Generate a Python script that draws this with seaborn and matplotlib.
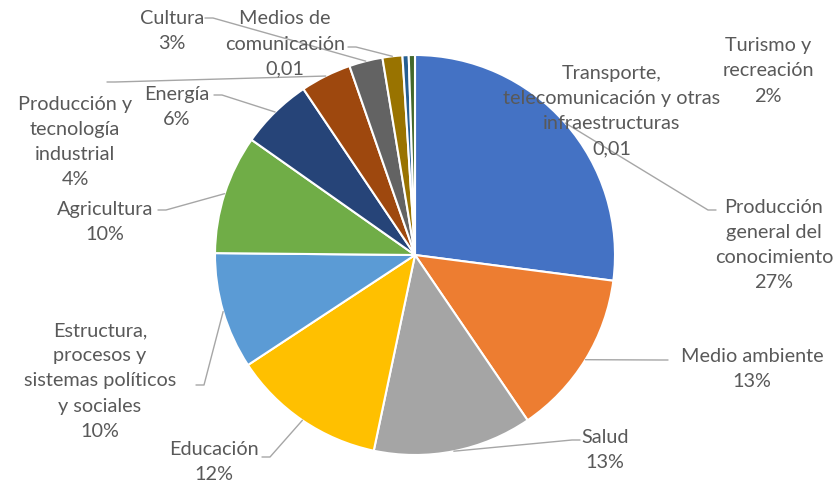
import numpy as np
import matplotlib
matplotlib.use("Agg")
import matplotlib.pyplot as plt
import seaborn as sns

# Data (clockwise from 12 o'clock)
categories = [
    "Producción\ngeneral del\nconocimiento",
    "Medio ambiente",
    "Salud",
    "Educación",
    "Estructura,\nprocesos y\nsistemas políticos\ny sociales",
    "Agricultura",
    "Energía",
    "Producción y\ntecnología\nindustrial",
    "Cultura",
    "Medios de\ncomunicación",
    "Transporte,\ntelecomunicación y otras\ninfraestructuras",
    "Turismo y\nrecreación",
]
shares = [27, 13.4, 12.8, 12.4, 9.4, 9.6, 5.8, 4.1, 2.7, 1.6, 0.5, 0.5]
value_labels = ["27%", "13%", "13%", "12%", "10%", "10%", "6%", "4%", "3%",
                "0,01", "0,01", "2%"]

colors = ["#4472C4", "#ED7D31", "#A5A5A5", "#FFC000", "#5B9BD5", "#70AD47",
          "#264478", "#9E480E", "#636363", "#997300", "#255E91", "#43682B"]

# Layout: label centres and leader starts in image pixels (835x487 canvas)
label_pos = [(774, 245), (752, 369), (605, 450), (214, 462), (100, 381),
             (105, 222), (177, 107), (75, 142), (172, 31), (285, 44),
             (612, 111), (768, 71)]
leader_start = [(716, 210), (668, 360), (580, 440), (262, 457), (196, 385),
                (158, 210), (214, 95), (107, 82), (205, 18), (348, 47),
                None, None]

CX, CY, R = 415, 255, 200


def to_data(p):
    return ((p[0] - CX) / R, (CY - p[1]) / R)


sns.set_theme(style="white")
plt.rcParams["font.family"] = ["Lato", "DejaVu Sans"]

fig = plt.figure(figsize=(8.35, 4.87), dpi=100)
ax = fig.add_axes([0, 0, 1, 1])

wedges, _ = ax.pie(
    shares,
    colors=colors,
    startangle=90,
    counterclock=False,
    radius=1.0,
    wedgeprops=dict(edgecolor="white", linewidth=1.5),
)

for w, name, val, pos, start in zip(wedges, categories, value_labels,
                                    label_pos, leader_start):
    tx, ty = to_data(pos)
    ax.text(tx, ty, f"{name}\n{val}", ha="center", va="center",
            fontsize=14.3, color="#595959", linespacing=1.58, zorder=3)
    if start is not None:
        mid = np.deg2rad((w.theta1 + w.theta2) / 2)
        ex, ey = np.cos(mid), np.sin(mid)
        sx, sy = to_data(start)
        step = 0.04 if ex > sx else -0.04
        ax.plot([sx, sx + step, ex], [sy, sy, ey], color="#A6A6A6",
                linewidth=1.0, zorder=2)

ax.set_xlim(-CX / R, (835 - CX) / R)
ax.set_ylim((CY - 487) / R, CY / R)
ax.set_aspect("equal")
ax.axis("off")

fig.savefig("out.png", dpi=100)
